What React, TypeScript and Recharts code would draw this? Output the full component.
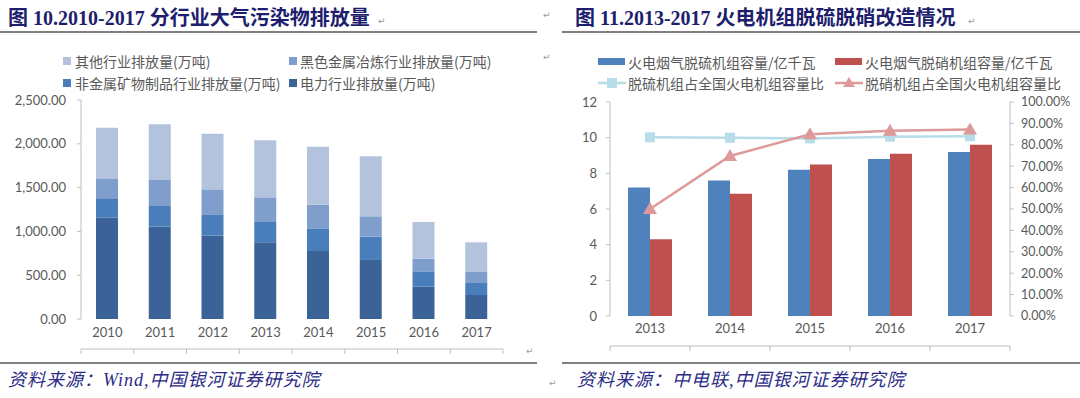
import React from 'react';
import { BarChart, Bar, ComposedChart, Line, XAxis, YAxis } from 'recharts';

// 图10 分行业大气污染物排放量 (万吨)
const years10 = ['2010', '2011', '2012', '2013', '2014', '2015', '2016', '2017'];
const powerEmission = [1156, 1054, 951, 875, 776, 674, 369, 274];
const nonMetalEmission = [214, 236, 244, 232, 259, 266, 175, 145];
const ferrousEmission = [228, 297, 285, 282, 270, 232, 145, 118];
const otherEmission = [586, 636, 636, 651, 662, 685, 418, 338];
const emissionTicks = [0, 500, 1000, 1500, 2000, 2500];

// 图11 火电机组脱硫脱硝改造情况
const years11 = ['2013', '2014', '2015', '2016', '2017'];
const desulfCapacity = [7.2, 7.6, 8.2, 8.8, 9.2];
const denitrCapacity = [4.3, 6.85, 8.5, 9.1, 9.6];
const desulfShare = [0.835, 0.833, 0.83, 0.838, 0.84];
const denitrShare = [0.5, 0.748, 0.849, 0.866, 0.872];
const capacityTicks = [0, 2, 4, 6, 8, 10, 12];
const shareTicks = [0, 0.1, 0.2, 0.3, 0.4, 0.5, 0.6, 0.7, 0.8, 0.9, 1];

const C = {
  power: '#3C6397',
  nonMetal: '#4A7EBB',
  ferrous: '#7F9ECC',
  other: '#B3C3DE',
  blue: '#4F81BD',
  red: '#C0504D',
  lightBlue: '#B7DEE8',
  pink: '#DE9A9A',
  axis: '#BFBFBF',
  text: '#595959',
  navy: '#1E1E6E',
};

const emissionData = years10.map((year, i) => ({
  year,
  slot: i + 0.5,
  power: powerEmission[i],
  nonMetal: nonMetalEmission[i],
  ferrous: ferrousEmission[i],
  other: otherEmission[i],
}));

const retrofitData = years11.map((year, i) => ({
  year,
  slot: i + 0.5,
  desulfCap: desulfCapacity[i],
  denitrCap: denitrCapacity[i],
  desulfShare: desulfShare[i],
  denitrShare: denitrShare[i],
}));

const tickFont = { fontFamily: 'Lato, "Noto Sans"', fontSize: 13, fill: C.text };
const cjk = '"Noto Sans CJK SC", "Noto Sans", sans-serif';
const titleFont = '"Liberation Serif", "Noto Sans CJK SC", serif';

const fmtThousands = (v: number) =>
  v.toLocaleString('en-US', { minimumFractionDigits: 2, maximumFractionDigits: 2 });
const fmtPct = (v: number) => (v * 100).toFixed(2) + '%';

const SquareDot = (props: any) => {
  const { cx, cy, index } = props;
  if (cx == null || cy == null) return null;
  return <rect key={'sq' + index} x={cx - 5} y={cy - 5} width={10} height={10} fill={C.lightBlue} />;
};

const TriangleDot = (props: any) => {
  const { cx, cy, index } = props;
  if (cx == null || cy == null) return null;
  return (
    <path
      key={'tr' + index}
      d={`M${cx},${cy - 7} L${cx + 7},${cy + 5} L${cx - 7},${cy + 5} Z`}
      fill={C.pink}
    />
  );
};

const abs = (x: number, y: number): React.CSSProperties => ({ position: 'absolute', left: x, top: y });

const Mark = ({ x, y }: { x: number; y: number }) => (
  <div style={{ ...abs(x, y), fontSize: 9, color: '#999', fontFamily: 'DejaVu Sans', lineHeight: '10px' }}>↵</div>
);

const LegendText = ({ x, y, children }: { x: number; y: number; children: React.ReactNode }) => (
  <div style={{ ...abs(x, y - 10), fontFamily: cjk, fontSize: 14, lineHeight: '20px', color: C.text, whiteSpace: 'nowrap' }}>
    {children}
  </div>
);

const Swatch = ({ x, y, color }: { x: number; y: number; color: string }) => (
  <div style={{ ...abs(x, y - 4), width: 8, height: 8, background: color }} />
);

export default function App() {
  return (
    <div style={{ position: 'absolute', left: 0, top: 0, width: 1080, height: 398, background: '#fff', overflow: 'hidden' }}>
      {/* titles */}
      <div style={{ ...abs(8, 6), fontFamily: titleFont, fontWeight: 'bold', fontSize: 20, lineHeight: '24px', color: C.navy, whiteSpace: 'nowrap' }}>
        图 10.2010-2017 分行业大气污染物排放量
      </div>
      <div style={{ ...abs(575, 6), fontFamily: titleFont, fontWeight: 'bold', fontSize: 20, lineHeight: '24px', color: C.navy, whiteSpace: 'nowrap' }}>
        图 11.2013-2017 火电机组脱硫脱硝改造情况
      </div>
      <div style={{ ...abs(0, 31), width: 537, height: 2, background: '#808080' }} />
      <div style={{ ...abs(562, 31), width: 518, height: 2, background: '#808080' }} />
      <div style={{ ...abs(0, 362), width: 537, height: 2, background: '#808080' }} />
      <div style={{ ...abs(562, 362), width: 518, height: 2, background: '#808080' }} />
      <Mark x={378} y={16} />
      <Mark x={968} y={16} />
      <Mark x={543} y={10} />
      <Mark x={543} y={52} />
      <Mark x={526} y={346} />
      <Mark x={549} y={378} />

      {/* sources */}
      <div style={{ ...abs(8, 370), fontFamily: titleFont, fontStyle: 'italic', fontSize: 18, letterSpacing: 1, lineHeight: '20px', color: '#2B2B85', whiteSpace: 'nowrap' }}>
        资料来源：Wind,中国银河证券研究院
      </div>
      <div style={{ ...abs(577, 370), fontFamily: titleFont, fontStyle: 'italic', fontSize: 18, letterSpacing: 1, lineHeight: '20px', color: '#2B2B85', whiteSpace: 'nowrap' }}>
        资料来源：中电联,中国银河证券研究院
      </div>

      {/* legend: chart 10 */}
      <Swatch x={63} y={61} color={C.other} />
      <LegendText x={75} y={61}>其他行业排放量(万吨)</LegendText>
      <Swatch x={289} y={61} color={C.ferrous} />
      <LegendText x={300} y={61}>黑色金属冶炼行业排放量(万吨)</LegendText>
      <Swatch x={63} y={83} color={C.nonMetal} />
      <LegendText x={75} y={83}>非金属矿物制品行业排放量(万吨)</LegendText>
      <Swatch x={289} y={83} color={C.power} />
      <LegendText x={300} y={83}>电力行业排放量(万吨)</LegendText>

      {/* legend: chart 11 */}
      <div style={{ ...abs(598, 58), width: 27, height: 7, background: C.blue }} />
      <LegendText x={628} y={62}>火电烟气脱硫机组容量/亿千瓦</LegendText>
      <div style={{ ...abs(835, 58), width: 27, height: 7, background: C.red }} />
      <LegendText x={865} y={62}>火电烟气脱硝机组容量/亿千瓦</LegendText>
      <svg style={abs(596, 76)} width={32} height={14}>
        <line x1={2} y1={7} x2={30} y2={7} stroke={C.lightBlue} strokeWidth={2.5} />
        <rect x={11} y={2} width={10} height={10} fill={C.lightBlue} />
      </svg>
      <LegendText x={628} y={83}>脱硫机组占全国火电机组容量比</LegendText>
      <svg style={abs(833, 76)} width={32} height={14}>
        <line x1={2} y1={7} x2={30} y2={7} stroke={C.pink} strokeWidth={2.5} />
        <path d="M16,1 L22,11 L10,11 Z" fill={C.pink} />
      </svg>
      <LegendText x={865} y={83}>脱硝机组占全国火电机组容量比</LegendText>

      {/* chart 10 */}
      <div style={abs(0, 0)}>
        <BarChart width={540} height={354} data={emissionData} margin={{ top: 100, right: 37, bottom: 0, left: 0 }} barSize={22}>
          <XAxis xAxisId="sep" type="number" dataKey="slot" domain={[0, 8]} ticks={[0, 1, 2, 3, 4, 5, 6, 7, 8]}
            height={5} stroke={C.axis} tickSize={5} tickFormatter={() => ''} allowDataOverflow />
          <XAxis dataKey="year" height={30} axisLine={false} tickLine={false} tickSize={0} tickMargin={9} tick={tickFont} interval={0} />
          <YAxis width={81} domain={[0, 2500]} ticks={emissionTicks} tickFormatter={fmtThousands}
            stroke={C.axis} tickSize={4} tickMargin={11} tick={tickFont} />
          <Bar dataKey="power" stackId="e" fill={C.power} isAnimationActive={false} />
          <Bar dataKey="nonMetal" stackId="e" fill={C.nonMetal} isAnimationActive={false} />
          <Bar dataKey="ferrous" stackId="e" fill={C.ferrous} isAnimationActive={false} />
          <Bar dataKey="other" stackId="e" fill={C.other} isAnimationActive={false} />
        </BarChart>
      </div>

      {/* chart 11 */}
      <div style={abs(540, 0)}>
        <ComposedChart width={540} height={351} data={retrofitData} margin={{ top: 102, right: 0, bottom: 0, left: 0 }} barSize={22} barGap={0}>
          <XAxis xAxisId="sep" type="number" dataKey="slot" domain={[0, 5]} ticks={[0, 1, 2, 3, 4, 5]}
            height={5} stroke={C.axis} tickSize={5} tickFormatter={() => ''} allowDataOverflow />
          <XAxis dataKey="year" height={30} axisLine={false} tickLine={false} tickSize={0} tickMargin={8} tick={tickFont} interval={0} />
          <YAxis yAxisId="cap" width={70} domain={[0, 12]} ticks={capacityTicks}
            stroke={C.axis} tickSize={4} tickMargin={9} tick={tickFont} />
          <YAxis yAxisId="share" orientation="right" width={70} domain={[0, 1]} ticks={shareTicks} tickFormatter={fmtPct}
            stroke={C.axis} tickSize={4} tickMargin={7} tick={{ ...tickFont, fontSize: 12.5 }} />
          <Bar yAxisId="cap" dataKey="desulfCap" fill={C.blue} isAnimationActive={false} />
          <Bar yAxisId="cap" dataKey="denitrCap" fill={C.red} isAnimationActive={false} />
          <Line yAxisId="share" dataKey="desulfShare" stroke={C.lightBlue} strokeWidth={2.5} dot={SquareDot} activeDot={false} isAnimationActive={false} />
          <Line yAxisId="share" dataKey="denitrShare" stroke={C.pink} strokeWidth={2.5} dot={TriangleDot} activeDot={false} isAnimationActive={false} />
        </ComposedChart>
      </div>
    </div>
  );
}
